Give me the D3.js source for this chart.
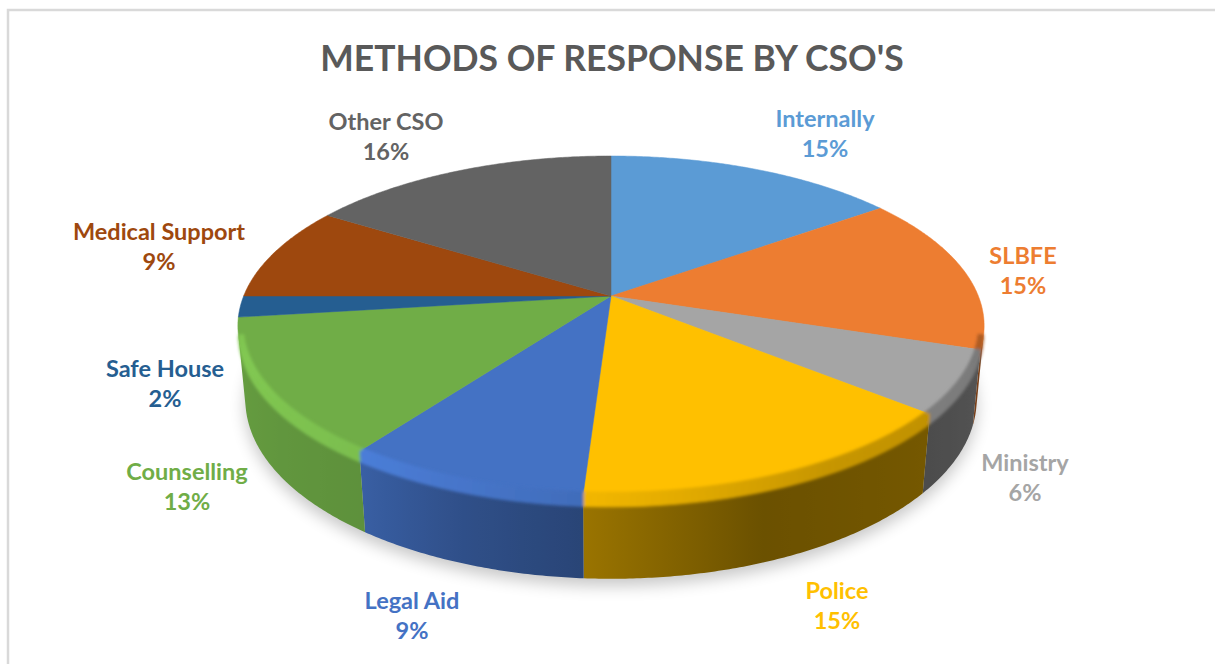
<!DOCTYPE html>
<html>
<head>
<meta charset="utf-8">
<script src="https://cdn.jsdelivr.net/npm/d3@7"></script>
<style>
  html, body { margin: 0; padding: 0; background: #ffffff; }
  svg { display: block; }
</style>
</head>
<body>
<svg id="chart" width="1215" height="664"></svg>
<script>
// ---- data ----
const chartTitle = "METHODS OF RESPONSE BY CSO'S";
const categories = ["Internally", "SLBFE", "Ministry", "Police", "Legal Aid",
                    "Counselling", "Safe House", "Medical Support", "Other CSO"];
const shares = [15, 15, 6, 15, 9, 13, 2, 9, 16];
const sliceColors = ["#5B9BD5", "#ED7D31", "#A5A5A5", "#FFC000", "#4472C4",
                     "#70AD47", "#255E91", "#9E480E", "#636363"];

// ---- layout ----
// centre of the first line of each data label
const labelPos = [[825, 119], [1023, 256], [1025, 463], [837, 591], [412, 601],
                  [187, 472], [165, 369], [159, 232], [386, 122]];

const W = 1215, H = 664;
const svg = d3.select("#chart");

// perspective camera for the 3-D pie
const cx = 611, cy = 296, focal = 1872, dist = 5.096;
const tilt = Math.asin(0.448), thick = 0.226;
const cosT = Math.cos(tilt), sinT = Math.sin(tilt);

// theta: clockwise from 12 o'clock (d3.pie convention), r: radius, z: height
function project(theta, r, z) {
  const x = r * Math.sin(theta), y = -r * Math.cos(theta);
  const yc = -y * sinT + z * cosT;
  const zc = -y * cosT - z * sinT + dist;
  return [cx + focal * x / zc, cy - focal * yc / zc];
}
const limit = Math.acos(-1 / (dist * cosT));          // silhouette angle
const facesViewer = th => Math.cos(th) < -1 / (dist * cosT);

const deg = Math.PI / 180;
const wallLight = d3.scaleLinear()
  .domain([90, 130, 160, 183, 200, 216, 240, 270].map(d => d * deg))
  .range([0.55, 0.46, 0.42, 0.6, 0.7, 0.84, 0.88, 0.94]).clamp(true);
const rimLight = d3.scaleLinear()
  .domain([90, 150, 183, 215, 250, 270].map(d => d * deg))
  .range([0.72, 0.78, 0.95, 1.1, 1.16, 1.1]).clamp(true);

const shade = (c, f) => { const k = d3.rgb(c); return d3.rgb(k.r * f, k.g * f, k.b * f).formatHex(); };

function angleSteps(a0, a1, step) {
  const n = Math.max(1, Math.ceil((a1 - a0) / step));
  return d3.range(n + 1).map(i => a0 + (a1 - a0) * i / n);
}

const data = categories.map((name, i) => ({ name, value: shares[i], color: sliceColors[i], at: labelPos[i] }));
const arcs = d3.pie().sort(null).value(d => d.value).startAngle(0).endAngle(2 * Math.PI)(data);

const defs = svg.append("defs");
defs.append("filter").attr("id", "soft").attr("x", "-20%").attr("y", "-20%").attr("width", "140%").attr("height", "140%")
  .append("feGaussianBlur").attr("stdDeviation", 8);
defs.append("filter").attr("id", "bevel").attr("x", "-5%").attr("y", "-5%").attr("width", "110%").attr("height", "110%")
  .append("feGaussianBlur").attr("stdDeviation", 1.6);

// chart frame
svg.append("rect").attr("x", 8).attr("y", 10).attr("width", W + 20).attr("height", H + 20)
  .attr("fill", "#ffffff").attr("stroke", "#d9d9d9").attr("stroke-width", 2.5);

// title
svg.append("text").attr("x", 612).attr("y", 58).attr("dy", "0.36em")
  .attr("text-anchor", "middle")
  .style("font-family", "Lato, 'Open Sans', sans-serif").style("font-weight", 700)
  .style("font-size", "35.5px").attr("fill", "#595959")
  .text(chartTitle);

const line = d3.line();

// soft drop shadow under the pie
const ring = angleSteps(0, 2 * Math.PI, 2 * deg).map(a => project(a, 1.0, -thick));
svg.append("path").attr("d", line(ring) + "Z")
  .attr("transform", "translate(0,7)")
  .attr("fill", "#000").attr("opacity", 0.22).attr("filter", "url(#soft)");

// outer walls (the part turned to the viewer), shaded with a horizontal gradient
const wallG = svg.append("g");
arcs.forEach((a, i) => {
  const t0 = Math.max(a.startAngle, limit), t1 = Math.min(a.endAngle, 2 * Math.PI - limit);
  if (t1 <= t0) return;
  const steps = angleSteps(t0, t1, 0.5 * deg);
  const xs = steps.map(t => project(t, 1, 0)[0]);
  const gid = "wall" + i;
  const g = defs.append("linearGradient").attr("id", gid)
    .attr("gradientUnits", "userSpaceOnUse")
    .attr("x1", xs[0]).attr("x2", xs[xs.length - 1]).attr("y1", 0).attr("y2", 0);
  const span = xs[xs.length - 1] - xs[0];
  steps.forEach((t, k) => {
    if (k % 4 !== 0 && k !== steps.length - 1) return;
    g.append("stop").attr("offset", span === 0 ? 0 : (xs[k] - xs[0]) / span)
      .attr("stop-color", shade(a.data.color, wallLight(t)));
  });
  const pts = steps.map(t => project(t, 1, 0))
    .concat(steps.slice().reverse().map(t => project(t, 1, -thick)));
  wallG.append("path").attr("d", line(pts) + "Z")
    .attr("fill", `url(#${gid})`);
});

// top faces
svg.append("g").selectAll("path").data(arcs).join("path")
  .attr("d", a => line([[cx, cy], ...angleSteps(a.startAngle, a.endAngle, 0.5 * deg).map(t => project(t, 1, 0))]) + "Z")
  .attr("fill", a => a.data.color)
  .attr("stroke", a => a.data.color).attr("stroke-width", 0.5);

// rounded rim edge
const bevelG = svg.append("g").attr("filter", "url(#bevel)");
arcs.forEach(a => {
  const steps = angleSteps(a.startAngle, a.endAngle, 1 * deg);
  for (let i = 0; i < steps.length - 1; i++) {
    const t0 = steps[i], t1 = steps[i + 1], tm = (t0 + t1) / 2;
    if (!facesViewer(tm)) continue;
    const col = shade(a.data.color, rimLight(tm));
    bevelG.append("path")
      .attr("d", line([project(t0, 0.986, 0), project(t1, 0.986, 0), project(t1, 1, 0),
                       project(t1, 1, -0.03), project(t0, 1, -0.03), project(t0, 1, 0)]) + "Z")
      .attr("fill", col).attr("stroke", col).attr("stroke-width", 0.8);
  }
});

// data labels
const lbl = svg.append("g")
  .style("font-family", "Lato, 'Open Sans', sans-serif").style("font-weight", 700)
  .style("font-size", "23.5px").attr("text-anchor", "middle");
arcs.forEach(a => {
  const [lx, ly] = a.data.at;
  const t = lbl.append("text").attr("fill", a.data.color);
  t.append("tspan").attr("x", lx).attr("y", ly).attr("dy", "0.36em").text(a.data.name);
  t.append("tspan").attr("x", lx).attr("y", ly + 30).attr("dy", "0.36em").text(a.data.value + "%");
});
</script>
</body>
</html>
